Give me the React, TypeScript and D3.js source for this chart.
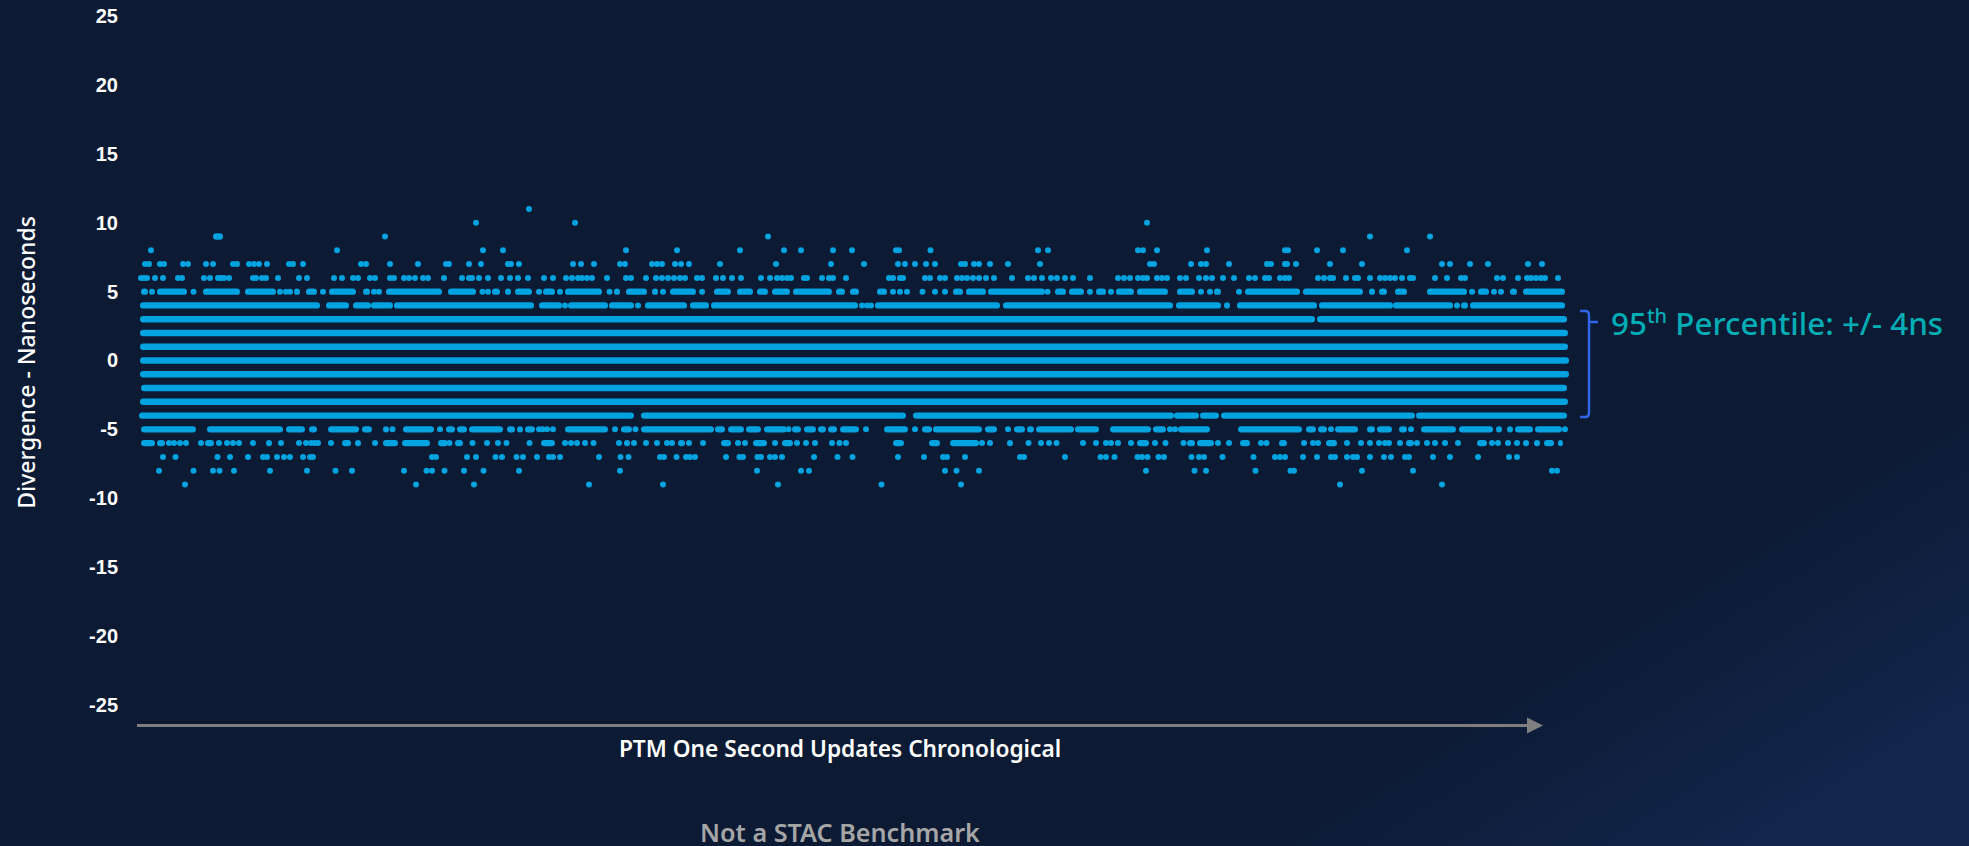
import { axisLeft, scaleLinear, select } from 'd3'
import { useEffect, useRef } from 'react'

type Reading = number | [number, number]

const yTicks = [25, 20, 15, 10, 5, 0, -5, -10, -15, -20, -25]

// updates counted from the left of the plot. A number is a lone dot, a pair is
// a stretch where the dots merge into a solid run (first edge, last edge)
const plus11: Reading[] = [399]
const plus10: Reading[] = [346, 445, 1017]
const plus9: Reading[] = [[83, 93], 255, 638, 1240, 1300]
const plus8: Reading[] = [21, 207, 353, 373, 496, 547, 610, 654, 671, 703, 722, 766, 769, 800.5, 908, 918, 1008, 1013, 1027, 1077, 1155, 1158, 1187, 1213, 1277]
const plus7: Reading[] = [15, 19, 30, 34, 53, 58, 76, 83, 103, 107, 119, 124, 129, 137, 159, 163, 173, 231, 236, 260, 288, 316, 319, 339, 351, 378, 381, 389, 443, 451, 464, 490, 495, 522, 527, 532, 545, 551, 559, 590, 646, 701, 734, 768, 775, 785, 796, 805, 831, 835, 844, 849, 860, 878, 910, 1020, 1024, 1061, 1071, 1076, 1099, 1137, 1141, 1155, 1157, 1166, 1200, 1232, 1312, 1320, 1340, 1358, 1398, 1412]
const plus6: Reading[] = [11, 14, 17, 25, 33, 48, 52, 74, 80, 88, 91, 94, 99, 123, 126, 132, 136, 148, 169, 177, 204, 212, 223, 228, 240, 245, 260, 264, 274, 279, 285, 293, 298, 314, 332, 339, 342, 349, 358, 371, 380, 388, 398, 414, 423, 436, 442, 448, 452, 457, 462, 477, 496, 501, 516, 526, 532, 538, 544, 550, 555, 567, 572, 586, 593, 602, 611, 631, 640, 647, 652, 657, 661, 674, 677, 692, 699, 703, 716, 759, 763, 770, 773, 795, 800, 810, 815, 827, 832, 837, 843, 849, 856, 864, 882, 898, 904, 912, 921, 927, 935, 943, 960, 988, 994, 1000, 1008, 1013, 1017, 1027, 1032, 1037, 1050, 1056, 1069, 1076, 1082, 1093, 1104, 1119, 1125, 1135, 1139, 1150, 1155, 1159, 1188, 1194, 1200, 1203, 1216, 1225, 1228, 1240, 1250, 1255, 1260, 1265, 1272, 1280, 1283, 1305, 1317, 1331, 1335, 1367, 1373, 1388, 1397, 1401, 1406, 1411, 1415, 1428]
const plus5: Reading[] = [[11, 18], 22, [27, 57], 63.5, [73, 110], [115, 146], 150, 156, 160, [164, 170], [176, 187], 193, [199, 226], [233, 240], 244, 249, [256, 312], [318, 346], 352.5, 358, [362, 370], [375, 381], [385, 402], 409, [413, 425], 430, [435, 472], 479.5, [484, 490], [496, 517], [522, 528], 533, [540, 566], 572, [584, 601], [607, 623], [627, 638], [642, 660], [663, 702], [706, 715], [720, 729], [747, 757], 763, 770, 777, 792.5, 805, 815, [823, 833], [836, 856], [858, 915], 917.5, [925, 936], [939, 954], 960, [966, 976], 981, [986, 1004], [1007, 1038], [1047, 1065], 1071, 1080, [1084, 1091], 1109, [1115, 1170], [1173, 1233], [1239, 1245], [1249, 1257], [1265, 1277], [1297, 1337], 1342, [1348, 1359], 1364, 1371, [1380, 1387], [1393, 1435]]
const plus4: Reading[] = [[10, 190], [196, 219], [223, 241], [241, 263], [264, 404], [409, 432], 435, [438, 478], [479, 504], 508, [515, 557], [560, 579], [581, 728], 732, 737, 741, [745, 870], [873, 1043], [1046, 1091], [1094, 1100], [1107, 1187], [1189, 1263], [1263, 1323], 1327, [1331, 1338], [1340, 1435]]
const plus3: Reading[] = [[10, 1185], [1187, 1437]]
const plus2: Reading[] = [[10, 1438]]
const plus1: Reading[] = [[10, 1438]]
const zero: Reading[] = [[10, 1439]]
const minus1: Reading[] = [[10, 1439]]
const minus2: Reading[] = [[11, 1437]]
const minus3: Reading[] = [[10, 1438]]
const minus4: Reading[] = [[9, 504], [511, 776], [783, 1044], [1044, 1069], [1070, 1089], [1091, 1285], [1286, 1437]]
const minus5: Reading[] = [[11, 66], [77, 153], [156, 175], [179, 187], [198, 229], [232, 242], [253, 259], 262.5, [273, 304], 310, [316, 325], [327, 337], [339, 373], [377, 385], [387, 393], [395, 405], 409, 412.5, 417, 423, [435, 478], 485, [491, 502], 505.5, [511, 584], [585, 595], [598, 614], [616, 631], [634, 657], 658.5, [662, 671], [674, 686], [688, 696], [698, 707], [710, 729], 736, [754, 778], 785, [792, 802], [803, 852], [855, 867], 878, [884, 895], [897, 904], [906, 944], [945, 969], [980, 1021], [1023, 1036], 1040, 1045, [1048, 1080], [1108, 1172], [1176, 1186], [1188, 1197], 1201, [1205, 1228], [1237, 1245], [1247, 1262], [1269, 1277], 1281, [1291, 1326], [1329, 1363], [1366, 1372], [1377, 1383], [1385, 1403], [1405, 1432], 1435]
const minus6: Reading[] = [[11, 25], [27, 35], 39, 44, 50, 56, 71, [75, 84], 89, 97, 103, 109, 123, [136, 142], 151, 169, 176, 181, 184.5, 188, 201, [212, 221], [225, 231], 245, [253, 268], [272, 300], [308, 318], 319.5, [325, 333], 342.5, 357, 368, 376.5, 399.5, [411, 425], 435, 441, 447, 455, 463.5, 489, [494, 500], 504, 516, 527, 537, 542, [548, 555], 559, 573, [591, 601], 608, 615, [623, 637], 645, [652, 663], 667, 676, 685, 702, 709.5, 716, [763, 774], [799, 810], [820, 849], 852, 860, [877, 883], 898.5, 911, 919, 926.5, 953, 966, 976, 981, 988, 1001, [1007, 1019], 1025, 1035.5, 1053.5, [1057, 1065], [1067, 1084], 1088, 1099, [1110, 1120], 1131, 1136.5, [1149, 1157], 1174, 1183, 1188, [1196, 1207], 1217, 1231, 1240, 1249, 1255, 1259, 1270, [1276, 1284], 1287, 1297, 1305, 1315, 1328, [1347, 1357], 1362, 1368, 1378, 1387, [1393, 1399], [1404, 1410], [1414, 1424], [1428, 1433]]
const minus7: Reading[] = [33, 45.5, 87.5, 100, 118, 133, 137, 147, 154, 160, 173, 180, 183, 302, 306, 337, 346, 365.5, 372, 386.5, 393, 407, 419, 423, 430, 469, 490.5, 498.5, 530, 534, 546.5, 556, 560, 565, 596, 609.5, 613, 627.5, 631, 640, 645, 652, 684, 707.5, 722.5, 768, 794, 813, 817, 835, 890, 894, 935, 970.5, 976, 984.5, 1007.5, 1012, 1017.5, 1028.5, 1034, 1061.5, 1069, 1074, 1092.5, 1123.5, 1145, 1150, 1155, 1173, 1187, 1201, 1205, 1217, 1223, 1227, 1240, 1254, 1261, 1275, 1279, 1303, 1320, 1348, 1379, 1387]
const minus8: Reading[] = [29, 63.5, 83, 89.5, 104, 140, 177, 205.5, 222, 274, 296.5, 302, 314.5, 334, 353.5, 389, 490, 627, 671, 679, 815, 826.5, 849, 1016, 1064.5, 1076, 1125.5, 1160.5, 1164, 1232, 1283, 1422, 1427]
const minus9: Reading[] = [55, 286, 344, 459, 533, 648, 751.5, 831, 1210, 1312]

const rows: [number, Reading[]][] = [
  [11, plus11], [10, plus10], [9, plus9], [8, plus8], [7, plus7], [6, plus6], [5, plus5],
  [4, plus4], [3, plus3], [2, plus2], [1, plus1], [0, zero], [-1, minus1], [-2, minus2],
  [-3, minus3], [-4, minus4], [-5, minus5], [-6, minus6], [-7, minus7], [-8, minus8], [-9, minus9],
]

const sansFont = '"Noto Sans", "Open Sans", sans-serif'

export default function App() {
  const svgRef = useRef<SVGSVGElement>(null)

  useEffect(() => {
    const width = 1969
    const height = 846
    const dotColor = '#00a3e0'

    const svg = select(svgRef.current)
    svg.selectAll('*').remove()

    // background, dark navy lifting slightly to the bottom right corner
    const grad = svg
      .append('defs')
      .append('linearGradient')
      .attr('id', 'bg')
      .attr('gradientUnits', 'userSpaceOnUse')
      .attr('x1', 1640)
      .attr('y1', 590)
      .attr('x2', 1800)
      .attr('y2', 846)
    grad.append('stop').attr('offset', 0).attr('stop-color', '#0c1a34')
    grad.append('stop').attr('offset', 1).attr('stop-color', '#13274e')
    svg.append('rect').attr('width', width).attr('height', height).attr('fill', 'url(#bg)')

    const x = scaleLinear().domain([0, 1440]).range([130, 1570])
    const y = scaleLinear().domain([-25, 25]).range([704.75, 16.25])

    // Y axis
    const axis = svg
      .append('g')
      .attr('transform', 'translate(118,0)')
      .call(axisLeft(y).tickValues(yTicks).tickSize(0).tickPadding(0).tickFormat((d) => String(d)))
    axis.select('.domain').remove()
    axis
      .selectAll('text')
      .attr('fill', '#fff')
      .style('font-family', '"Liberation Sans", Arial, sans-serif')
      .style('font-size', '20px')
      .style('font-weight', 700)

    svg
      .append('text')
      .attr('transform', `translate(35,${y(0) + 2}) rotate(-90)`)
      .attr('text-anchor', 'middle')
      .attr('fill', '#fff')
      .style('font-family', sansFont)
      .style('font-size', '23px')
      .style('font-weight', 500)
      .text('Divergence - Nanoseconds')

    // dots and merged runs
    const marks = svg.append('g').attr('fill', dotColor)
    rows.forEach(([level, readings]) => {
      readings.forEach((r) => {
        if (Array.isArray(r)) {
          marks
            .append('rect')
            .attr('x', x(r[0]))
            .attr('y', y(level) - 3.2)
            .attr('width', x(r[1]) - x(r[0]))
            .attr('height', 6.4)
            .attr('rx', 3.2)
        } else {
          marks.append('circle').attr('cx', x(r)).attr('cy', y(level)).attr('r', 3)
        }
      })
    })

    // 95th percentile bracket
    const top = y(3.6)
    const bottom = y(-4.1)
    svg
      .append('path')
      .attr(
        'd',
        `M1580,${top}H1585Q1589,${top} 1589,${top + 4}V${bottom - 4}Q1589,${bottom} 1585,${bottom}H1580M1589,${y(2.8)}H1598`
      )
      .attr('fill', 'none')
      .attr('stroke', '#2f66e8')
      .attr('stroke-width', 2.5)

    const note = svg
      .append('text')
      .attr('x', 1611)
      .attr('y', 335)
      .attr('fill', '#00adb5')
      .style('font-family', sansFont)
      .style('font-size', '31.4px')
      .style('font-weight', 500)
    note.append('tspan').text('95')
    note.append('tspan').attr('dy', -12).style('font-size', '20px').text('th')
    note.append('tspan').attr('dy', 12).text(' Percentile: +/- 4ns')

    // time arrow
    svg
      .append('line')
      .attr('x1', 137)
      .attr('x2', 1530)
      .attr('y1', 725.5)
      .attr('y2', 725.5)
      .attr('stroke', '#7f7f7f')
      .attr('stroke-width', 3)
    svg.append('path').attr('d', 'M1527,717.5L1543,725.5L1527,733.5Z').attr('fill', '#7f7f7f')

    svg
      .append('text')
      .attr('x', 840)
      .attr('y', 756.5)
      .attr('text-anchor', 'middle')
      .attr('fill', '#fff')
      .style('font-family', sansFont)
      .style('font-size', '22.7px')
      .style('font-weight', 600)
      .text('PTM One Second Updates Chronological')

    svg
      .append('text')
      .attr('x', 840)
      .attr('y', 841.5)
      .attr('text-anchor', 'middle')
      .attr('fill', '#a6a6a6')
      .style('font-family', sansFont)
      .style('font-size', '25.2px')
      .style('font-weight', 600)
      .text('Not a STAC Benchmark')
  }, [])

  return (
    <svg
      ref={svgRef}
      width={1969}
      height={846}
      style={{ position: 'absolute', left: 0, top: 0, display: 'block' }}
    />
  )
}
